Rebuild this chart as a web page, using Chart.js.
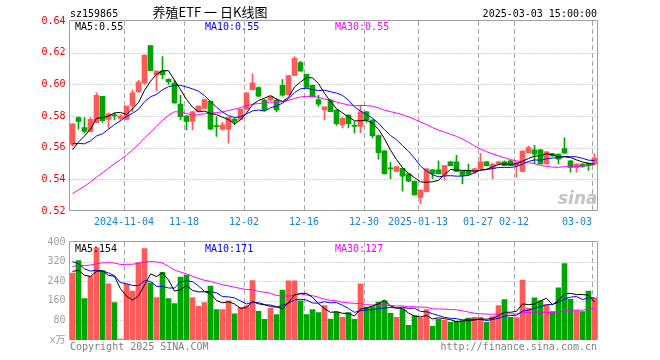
<!DOCTYPE html>
<html>
<head>
<meta charset="utf-8">
<script src="https://cdn.jsdelivr.net/npm/chart.js@4.4.1/dist/chart.umd.min.js"></script>
<style>
html, body { margin: 0; padding: 0; background: #fff; }
#wrap { position: relative; width: 660px; height: 360px; }
#kline { position: absolute; left: 0; top: 0; }
#vol { position: absolute; left: 0; top: 232px; }
</style>
</head>
<body>
<div id="wrap">
<canvas id="kline" width="660" height="232"></canvas>
<canvas id="vol" width="660" height="128"></canvas>
</div>
<script>
// trading days shown (2024-10-22 .. 2025-03-03)
const dates = [
"10-22","10-23","10-24","10-25","10-28","10-29","10-30","10-31","11-01",
"11-04","11-05","11-06","11-07","11-08","11-11","11-12","11-13","11-14","11-15",
"11-18","11-19","11-20","11-21","11-22","11-25","11-26","11-27","11-28","11-29",
"12-02","12-03","12-04","12-05","12-06","12-09","12-10","12-11","12-12","12-13",
"12-16","12-17","12-18","12-19","12-20","12-23","12-24","12-25","12-26","12-27",
"12-30","12-31","01-02","01-03","01-06","01-07","01-08","01-09","01-10",
"01-13","01-14","01-15","01-16","01-17","01-20","01-21","01-22","01-23","01-24",
"01-27","02-05","02-06","02-07","02-10","02-11","02-12","02-13","02-14",
"02-17","02-18","02-19","02-20","02-21","02-24","02-25","02-26","02-27","02-28","03-03"
];

const openP = [
0.562,0.579,0.5727,0.5702,0.5758,0.5925,0.5779,0.5808,0.5785,0.5779,
0.5863,0.5952,0.6008,0.6244,0.606,0.6083,0.6031,0.6008,0.5875,0.580,
0.5765,0.5827,0.5848,0.5894,0.5735,0.5717,0.5717,0.578,0.5779,0.5844,
0.5967,0.5979,0.590,0.590,0.590,0.5994,0.5935,0.6056,0.6137,0.6063,
0.5994,0.5904,0.5838,0.590,0.5837,0.5744,0.5806,0.5736,0.5734,0.5827,
0.5775,0.5676,0.558,0.5468,0.545,0.547,0.5435,0.5388,0.5285,0.5322,
0.546,0.546,0.5425,0.5511,0.5511,0.545,0.5456,0.5445,0.5466,0.5511,
0.5466,0.5497,0.5511,0.5517,0.5487,0.545,0.5569,0.5586,0.5586,0.5497,
0.5563,0.5559,0.5594,0.5517,0.5476,0.5497,0.5501,0.5497
];
const highP = [
0.575,0.5795,0.579,0.579,0.5946,0.5925,0.582,0.582,0.581,0.5863,
0.5963,0.6025,0.6185,0.6244,0.6085,0.6175,0.6035,0.6025,0.5931,0.5805,
0.583,0.5865,0.5906,0.5894,0.5796,0.576,0.5795,0.5785,0.5846,0.5946,
0.6067,0.5985,0.5905,0.5925,0.591,0.603,0.6056,0.6175,0.6145,0.6065,
0.5996,0.5931,0.5858,0.5905,0.584,0.579,0.5808,0.5765,0.5869,0.583,
0.5777,0.568,0.5582,0.5507,0.5482,0.5472,0.5437,0.539,0.5334,0.5468,
0.5462,0.5517,0.5489,0.5513,0.5552,0.5452,0.5497,0.547,0.5565,0.5513,
0.550,0.5513,0.5517,0.552,0.551,0.5581,0.561,0.5614,0.559,0.5575,
0.5565,0.556,0.5662,0.5519,0.550,0.5499,0.5503,0.5563
];
const lowP = [
0.561,0.5717,0.5692,0.570,0.5758,0.576,0.5723,0.5775,0.577,0.5775,
0.5827,0.595,0.600,0.6087,0.5958,0.6035,0.600,0.588,0.5775,0.5713,
0.5713,0.5825,0.5845,0.5713,0.5671,0.571,0.5629,0.5745,0.5775,0.584,
0.5965,0.592,0.583,0.5895,0.5825,0.5925,0.5933,0.6054,0.6083,0.598,
0.592,0.586,0.5775,0.5827,0.574,0.5724,0.5724,0.5693,0.5693,0.576,
0.5662,0.5528,0.5433,0.5404,0.5448,0.5326,0.5386,0.530,0.5245,0.532,
0.5404,0.5433,0.5394,0.5485,0.5448,0.5373,0.5425,0.5435,0.5464,0.5485,
0.5404,0.549,0.5485,0.5485,0.5414,0.5448,0.5567,0.5497,0.5495,0.5495,
0.5546,0.5497,0.5563,0.5445,0.5445,0.5476,0.5456,0.5495
];
const closeP = [
0.575,0.5765,0.5702,0.5779,0.5931,0.5771,0.5813,0.580,0.580,0.5863,
0.5946,0.6015,0.6185,0.6087,0.6083,0.606,0.6015,0.5883,0.5796,0.5765,
0.5827,0.5863,0.5904,0.5717,0.5733,0.5744,0.5792,0.5765,0.5844,0.5946,
0.601,0.5925,0.5838,0.5925,0.5838,0.5931,0.6056,0.6165,0.6083,0.598,
0.592,0.5875,0.5858,0.5827,0.5751,0.5786,0.5751,0.5734,0.5827,0.5775,
0.5676,0.5569,0.5435,0.5466,0.548,0.542,0.5388,0.5301,0.5332,0.5466,
0.5435,0.5435,0.5487,0.5487,0.545,0.5425,0.5431,0.5466,0.5511,0.5487,
0.5497,0.5511,0.5487,0.5487,0.5507,0.5579,0.560,0.5559,0.5497,0.5573,
0.5548,0.5528,0.5565,0.5476,0.5497,0.5483,0.5487,0.5532
];
// volume, unit 万
const volume = [
273,324,169,260,376,283,229,153,4,227,
200,316,373,233,173,276,169,149,257,265,
173,137,153,220,124,124,160,107,132,140,
243,117,84,129,104,204,242,242,160,104,
124,112,140,85,115,93,112,84,229,134,
136,155,160,109,93,127,60,100,90,124,
56,84,80,73,77,77,89,93,93,72,
96,140,165,93,92,245,129,172,160,145,
116,213,312,166,120,116,200,172
];
// estimated sessions before the window, only used to start the moving averages
const preCloses = [
0.505,0.502,0.498,0.500,0.496,0.494,0.497,0.499,0.501,0.498,0.496,0.497,0.500,0.496,
0.49,0.51,0.52,
0.585,0.605,0.616,
0.575,0.572,0.560,0.562,0.563,
0.552,0.551,0.556,0.559
];
const preVolumes = [
180,205,190,210,185,200,195,188,207,192,198,200,195,206,
420,560,610,520,470,469,
410,380,350,340,320,
300,270,285,272
];

const tickDays = ["11-04","11-18","12-02","12-16","12-30","01-13","01-27","02-12","03-03"];
const tickText = ["2024-11-04","11-18","12-02","12-16","12-30","2025-01-13","01-27","02-12","03-03"];
const priceTicks = [0.52,0.54,0.56,0.58,0.60,0.62,0.64];
const volTicks = [0,80,160,240,320,400];
const priceLegend = ["MA5:0.55","MA10:0.55","MA30:0.55"];
const volLegend = ["MA5:154","MA10:171","MA30:127"];

const RED = "#ff5a5a", GREEN = "#00a600";
const MA_COLORS = ["#000000", "#0000ff", "#ff00ff"];
const GRID = "#a8a8a8", FRAME = "#a0a0a0";
const MONO = '"DejaVu Sans Mono", "Noto Sans CJK SC", monospace';

function movingAvg(prior, vals, n) {
  const all = prior.concat(vals);
  return vals.map((v, i) => {
    const end = prior.length + i;
    let s = 0;
    for (let j = end - n + 1; j <= end; j++) s += all[j];
    return s / n;
  });
}

const colors = closeP.map((c, i) => c >= openP[i] ? RED : GREEN);

function framePlugin(cfg) {
  return {
    id: "frame",
    beforeDatasetsDraw(chart) {
      const { ctx, chartArea: a, scales: { x, y } } = chart;
      const step = x.width / dates.length;
      ctx.save();
      ctx.strokeStyle = GRID;
      ctx.lineWidth = 1;
      ctx.setLineDash([1, 2]);
      cfg.ticks.forEach(v => {
        const py = Math.round(y.getPixelForValue(v)) + 0.5;
        if (py <= a.top + 2 || py >= a.bottom - 2) return;
        ctx.beginPath(); ctx.moveTo(a.left, py); ctx.lineTo(a.right + 1, py); ctx.stroke();
      });
      ctx.setLineDash([5, 3]);
      tickDays.forEach(d => {
        const px = Math.round(x.getPixelForValue(dates.indexOf(d)) - step / 2) + 0.5;
        ctx.beginPath(); ctx.moveTo(px, a.top); ctx.lineTo(px, a.bottom); ctx.stroke();
      });
      ctx.restore();
    },
    afterDraw(chart) {
      const { ctx, chartArea: a } = chart;
      const l = Math.round(a.left) - 0.5, r = Math.round(a.right) - 0.5;
      const t = Math.round(a.top) - 0.5, b = Math.round(a.bottom) - 0.5;
      ctx.save();
      ctx.strokeStyle = FRAME;
      ctx.lineWidth = 1;
      ctx.beginPath();
      if (cfg.bottom) { ctx.moveTo(l, b); ctx.lineTo(r, b); }
      ctx.moveTo(l, b); ctx.lineTo(l, t); ctx.lineTo(r, t); ctx.lineTo(r, b);
      ctx.stroke();
      ctx.font = "10px " + MONO;
      ctx.textAlign = "left";
      cfg.legend.forEach((s, i) => {
        ctx.fillStyle = MA_COLORS[i];
        ctx.fillText(s, a.left + 5.5 + i * 130, a.top + cfg.legendY);
      });
      cfg.extra(ctx, chart);
      ctx.restore();
    }
  };
}

function lineSet(data, color) {
  return { type: "line", data: data, borderColor: color, borderWidth: 1,
           pointRadius: 0, tension: 0, order: 0 };
}

// K line panel
new Chart(document.getElementById("kline").getContext("2d"), {
  type: "bar",
  data: {
    labels: dates,
    datasets: [
      { data: lowP.map((l, i) => [l, highP[i]]), backgroundColor: colors,
        barThickness: 1, grouped: false, order: 2 },
      { data: openP.map((o, i) => [o, closeP[i]]), backgroundColor: colors,
        barThickness: 5, grouped: false, minBarLength: 1, order: 1 },
      lineSet(movingAvg(preCloses, closeP, 5), MA_COLORS[0]),
      lineSet(movingAvg(preCloses, closeP, 10), MA_COLORS[1]),
      lineSet(movingAvg(preCloses, closeP, 30), MA_COLORS[2])
    ]
  },
  options: {
    responsive: false,
    animation: false,
    devicePixelRatio: 1,
    layout: { padding: { left: 0, right: 62.5, top: 21, bottom: 21 } },
    plugins: { legend: { display: false }, tooltip: { enabled: false } },
    scales: {
      x: { type: "category", display: false, offset: true },
      y: {
        min: 0.52, max: 0.64,
        afterFit(s) { s.width = 69.5; },
        afterBuildTicks(s) { s.ticks = priceTicks.map(v => ({ value: v })); },
        grid: { display: false, drawTicks: false },
        border: { display: false },
        ticks: { color: "#ee0000", padding: 4, font: { family: MONO, size: 10 },
                 callback: v => Number(v).toFixed(2) }
      }
    }
  },
  plugins: [framePlugin({
    ticks: priceTicks, legend: priceLegend, legendY: 9, bottom: true,
    extra(ctx, chart) {
      const a = chart.chartArea, x = chart.scales.x;
      const step = x.width / dates.length;
      ctx.fillStyle = "#000";
      ctx.font = "10px " + MONO;
      ctx.textAlign = "left";
      ctx.fillText("sz159865", 70, 17);
      ctx.textAlign = "right";
      ctx.fillText("2025-03-03 15:00:00", 597, 17);
      ctx.textAlign = "center";
      ctx.font = '13px "Noto Sans CJK SC"';
      ctx.fillText("养殖ETF 一 日K线图", 210, 17);
      ctx.font = "10px " + MONO;
      ctx.fillStyle = "#1a82d4";
      tickDays.forEach((d, i) => {
        const px = Math.round(x.getPixelForValue(dates.indexOf(d)) - step / 2);
        const w = ctx.measureText(tickText[i]).width;
        ctx.textAlign = px + w / 2 > a.right ? "right" : "center";
        ctx.fillText(tickText[i], px, a.bottom + 14);
      });
      ctx.fillStyle = "#c4c4c4";
      ctx.font = 'italic bold 17px "DejaVu Sans"';
      ctx.textAlign = "right";
      ctx.fillText("sina", a.right, a.bottom - 7);
    }
  })]
});

// volume panel
new Chart(document.getElementById("vol").getContext("2d"), {
  type: "bar",
  data: {
    labels: dates,
    datasets: [
      { data: volume, backgroundColor: colors, barThickness: 5, grouped: false, order: 1 },
      lineSet(movingAvg(preVolumes, volume, 5), MA_COLORS[0]),
      lineSet(movingAvg(preVolumes, volume, 10), MA_COLORS[1]),
      lineSet(movingAvg(preVolumes, volume, 30), MA_COLORS[2])
    ]
  },
  options: {
    responsive: false,
    animation: false,
    devicePixelRatio: 1,
    layout: { padding: { left: 0, right: 62.5, top: 8, bottom: 20 } },
    plugins: { legend: { display: false }, tooltip: { enabled: false } },
    scales: {
      x: { type: "category", display: false, offset: true },
      y: {
        min: 0, max: 400,
        afterFit(s) { s.width = 69.5; },
        afterBuildTicks(s) { s.ticks = volTicks.map(v => ({ value: v })); },
        grid: { display: false, drawTicks: false },
        border: { display: false },
        ticks: { color: "#a0a0a0", padding: 4, font: { family: MONO, size: 10 },
                 callback: v => v === 0 ? "x万" : String(v) }
      }
    }
  },
  plugins: [framePlugin({
    ticks: volTicks, legend: volLegend, legendY: 10, bottom: false,
    extra(ctx, chart) {
      const a = chart.chartArea;
      ctx.fillStyle = "#808080";
      ctx.font = "10px " + MONO;
      ctx.textAlign = "left";
      ctx.fillText("Copyright 2025 SINA.COM", 70, a.bottom + 10);
      ctx.textAlign = "right";
      ctx.fillText("http://finance.sina.com.cn", 597, a.bottom + 10);
    }
  })]
});
</script>
</body>
</html>
